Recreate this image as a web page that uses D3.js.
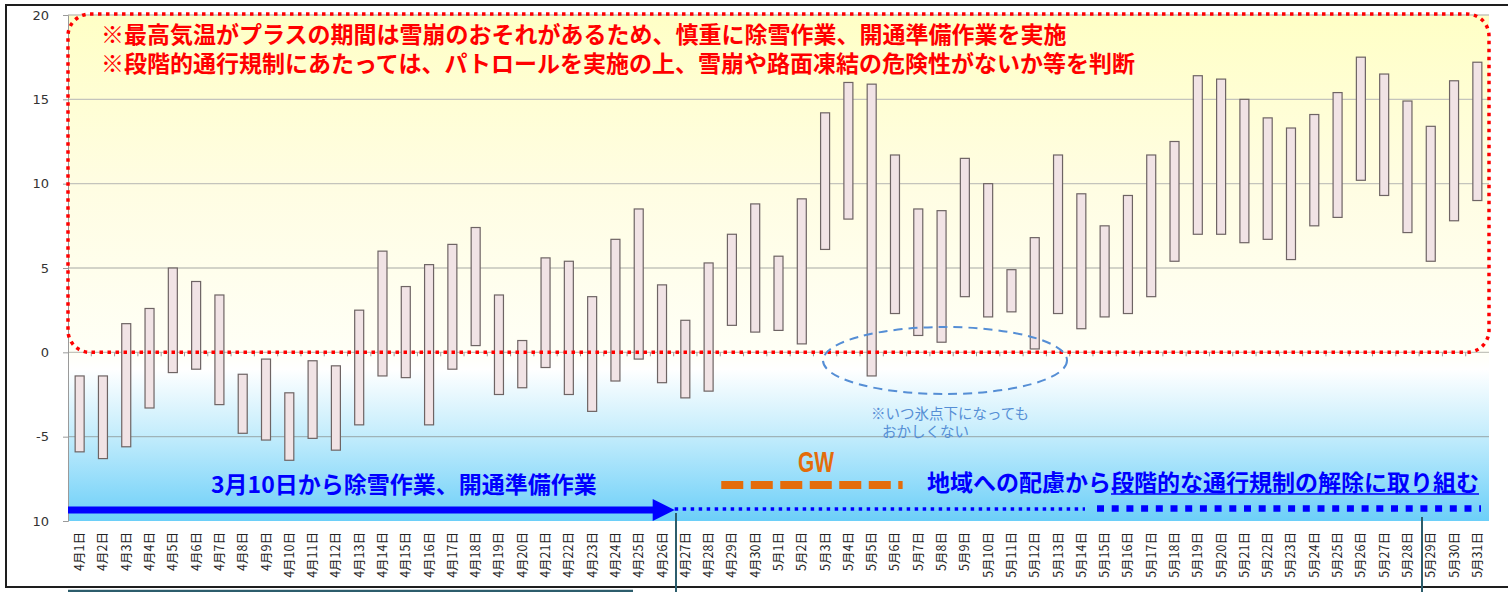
<!DOCTYPE html>
<html>
<head>
<meta charset="utf-8">
<script src="https://cdn.jsdelivr.net/npm/d3@7"></script>
<style>
  body { margin: 0; background: #fff; }
  svg { display: block; }
</style>
</head>
<body>
<div id="chart"></div>
<script>
// categories (4/1 - 5/31)
const days = [
  "4月1日","4月2日","4月3日","4月4日","4月5日","4月6日","4月7日","4月8日","4月9日","4月10日",
  "4月11日","4月12日","4月13日","4月14日","4月15日","4月16日","4月17日","4月18日","4月19日","4月20日",
  "4月21日","4月22日","4月23日","4月24日","4月25日","4月26日","4月27日","4月28日","4月29日","4月30日",
  "5月1日","5月2日","5月3日","5月4日","5月5日","5月6日","5月7日","5月8日","5月9日","5月10日",
  "5月11日","5月12日","5月13日","5月14日","5月15日","5月16日","5月17日","5月18日","5月19日","5月20日",
  "5月21日","5月22日","5月23日","5月24日","5月25日","5月26日","5月27日","5月28日","5月29日","5月30日",
  "5月31日"
];

// max temperature
const tMax = [
  -1.4, -1.4, 1.7, 2.6, 5.0, 4.2, 3.4, -1.3, -0.4, -2.4,
  -0.5, -0.8, 2.5, 6.0, 3.9, 5.2, 6.4, 7.4, 3.4, 0.7,
  5.6, 5.4, 3.3, 6.7, 8.5, 4.0, 1.9, 5.3, 7.0, 8.8,
  5.7, 9.1, 14.2, 16.0, 15.9, 11.7, 8.5, 8.4, 11.5, 10.0,
  4.9, 6.8, 11.7, 9.4, 7.5, 9.3, 11.7, 12.5, 16.4, 16.2,
  15.0, 13.9, 13.3, 14.1, 15.4, 17.5, 16.5, 14.9, 13.4, 16.1,
  17.2
];

// min temperature
const tMin = [
  -5.9, -6.3, -5.6, -3.3, -1.2, -1.0, -3.1, -4.8, -5.2, -6.4,
  -5.1, -5.8, -4.3, -1.4, -1.5, -4.3, -1.0, 0.4, -2.5, -2.1,
  -0.9, -2.5, -3.5, -1.7, -0.4, -1.8, -2.7, -2.3, 1.6, 1.2,
  1.3, 0.5, 6.1, 7.9, -1.4, 2.3, 1.0, 0.6, 3.3, 2.1,
  2.4, 0.2, 2.3, 1.4, 2.1, 2.3, 3.3, 5.4, 7.0, 7.0,
  6.5, 6.7, 5.5, 7.5, 8.0, 10.2, 9.3, 7.1, 5.4, 7.8,
  9.0
];

const yTicks = [-10, -5, 0, 5, 10, 15, 20];
const yTickLabels = ["10", "-5", "0", "5", "10", "15", "20"];

const noteLines = [
  "※最高気温がプラスの期間は雪崩のおそれがあるため、慎重に除雪作業、開通準備作業を実施",
  "※段階的通行規制にあたっては、パトロールを実施の上、雪崩や路面凍結の危険性がないか等を判断"
];
const freezeNote = ["※いつ氷点下になっても", "おかしくない"];
const workText = "3月10日から除雪作業、開通準備作業";
const planText1 = "地域への配慮から";
const planText2 = "段階的な通行規制の解除に取り組む";

const W = 1508, H = 592;
const pL = 68, pR = 1489, pT = 15, pB = 521;

const svg = d3.select("#chart").append("svg")
  .attr("width", W)
  .attr("height", H);

const x = d3.scaleBand().domain(days).range([pL, pR]).padding(0);
const y = d3.scaleLinear().domain([-10, 20]).range([pB, pT]);

// background gradient
const defs = svg.append("defs");
const grad = defs.append("linearGradient")
  .attr("id", "bg")
  .attr("gradientUnits", "userSpaceOnUse")
  .attr("x1", 0).attr("x2", 0)
  .attr("y1", pT).attr("y2", pB);
[
  [pT, "#ffffc6"],
  [y(10), "#fffde2"],
  [y(0), "#fffff6"],
  [y(-1), "#ffffff"],
  [y(-5), "#c2ecfc"],
  [pB, "#6ccff8"]
].forEach(([py, c]) => {
  grad.append("stop")
    .attr("offset", (py - pT) / (pB - pT))
    .attr("stop-color", c);
});

svg.append("rect")
  .attr("x", pL).attr("y", pT)
  .attr("width", pR - pL).attr("height", pB - pT)
  .attr("fill", "url(#bg)");

// gridlines
svg.append("g")
  .selectAll("line")
  .data(yTicks.filter(d => d > -10))
  .join("line")
  .attr("x1", pL).attr("x2", pR)
  .attr("y1", d => y(d)).attr("y2", d => y(d))
  .attr("stroke", d => d < 0 ? "#9fb3b8" : "#c4c4bc")
  .attr("stroke-width", 1.3);

// y axis
const yAxis = svg.append("g")
  .attr("transform", `translate(${pL},0)`)
  .call(d3.axisLeft(y)
    .tickValues(yTicks)
    .tickFormat((d, i) => yTickLabels[i])
    .tickSize(5)
    .tickPadding(14));
yAxis.select(".domain").attr("stroke", "#9a9a9a");
yAxis.selectAll(".tick line").attr("stroke", "#9a9a9a");
yAxis.selectAll("text")
  .attr("font-family", "DejaVu Sans, sans-serif")
  .attr("font-size", 13)
  .attr("fill", "#333");

// category ticks along the zero line
svg.append("g")
  .selectAll("line")
  .data(days.slice(1))
  .join("line")
  .attr("x1", d => x(d)).attr("x2", d => x(d))
  .attr("y1", y(0)).attr("y2", y(0) + 4)
  .attr("stroke", "#9a9a9a");

// category labels
svg.append("g")
  .selectAll("text")
  .data(days)
  .join("text")
  .attr("transform", d => `translate(${x(d) + x.bandwidth() / 2 + 4.5},532) rotate(-90)`)
  .attr("text-anchor", "end")
  .attr("font-family", "Noto Sans CJK JP, sans-serif")
  .attr("font-size", 12.5)
  .attr("fill", "#222")
  .text(d => d);

// floating bars
const bw = 9;
svg.append("g")
  .selectAll("rect")
  .data(days)
  .join("rect")
  .attr("x", d => x(d) + x.bandwidth() / 2 - bw / 2)
  .attr("width", bw)
  .attr("y", (d, i) => y(tMax[i]))
  .attr("height", (d, i) => y(tMin[i]) - y(tMax[i]))
  .attr("fill", "#f1e3e5")
  .attr("stroke", "#6e6464")
  .attr("stroke-width", 1.2);

// red dotted frame (plus-temperature zone)
svg.append("rect")
  .attr("x", pL).attr("y", 14)
  .attr("width", pR - pL).attr("height", y(0) - 14)
  .attr("rx", 22).attr("ry", 22)
  .attr("fill", "none")
  .attr("stroke", "#ff0000")
  .attr("stroke-width", 3.5)
  .attr("stroke-dasharray", "3.5,4.5");

svg.append("g")
  .selectAll("text")
  .data(noteLines)
  .join("text")
  .attr("x", 101)
  .attr("y", (d, i) => 43 + i * 28.5)
  .attr("font-family", "Noto Sans CJK JP, sans-serif")
  .attr("font-weight", 700)
  .attr("font-size", 23)
  .attr("fill", "#ff0000")
  .text(d => d);

// blue dashed ellipse + note
svg.append("ellipse")
  .attr("cx", 945).attr("cy", 360.5)
  .attr("rx", 122).attr("ry", 33.5)
  .attr("fill", "none")
  .attr("stroke", "#558ed5")
  .attr("stroke-width", 2)
  .attr("stroke-dasharray", "9,6");

svg.append("g")
  .selectAll("text")
  .data(freezeNote)
  .join("text")
  .attr("x", (d, i) => i === 0 ? 871 : 882)
  .attr("y", (d, i) => 419 + i * 18)
  .attr("font-family", "Noto Sans CJK JP, sans-serif")
  .attr("font-size", 14.5)
  .attr("fill", "#558ed5")
  .text(d => d);

// GW
svg.append("text")
  .attr("x", 798).attr("y", 472)
  .attr("font-family", "Liberation Sans Narrow, Liberation Sans, sans-serif")
  .attr("font-weight", 700)
  .attr("font-size", 30)
  .attr("textLength", 36)
  .attr("lengthAdjust", "spacingAndGlyphs")
  .attr("fill", "#e46c0a")
  .text("GW");

svg.append("line")
  .attr("x1", x("4月29日") + 1).attr("x2", x("5月7日") - 4)
  .attr("y1", 485).attr("y2", 485)
  .attr("stroke", "#e46c0a")
  .attr("stroke-width", 8)
  .attr("stroke-dasharray", "22,7.5");

// blue texts
svg.append("text")
  .attr("x", 211).attr("y", 493)
  .attr("font-family", "Noto Sans CJK JP, sans-serif")
  .attr("font-weight", 700)
  .attr("font-size", 23)
  .attr("fill", "#0000ff")
  .text(workText);

const plan = svg.append("text")
  .attr("x", 927).attr("y", 491)
  .attr("font-family", "Noto Sans CJK JP, sans-serif")
  .attr("font-weight", 700)
  .attr("font-size", 23)
  .attr("fill", "#0000ff");
plan.append("tspan").text(planText1);
plan.append("tspan").text(planText2);

const node = plan.node();
const u0 = 927 + node.getSubStringLength(0, planText1.length);
const u1 = 927 + node.getComputedTextLength();
svg.append("line")
  .attr("x1", u0).attr("x2", u1)
  .attr("y1", 494).attr("y2", 494)
  .attr("stroke", "#0000ff")
  .attr("stroke-width", 1.6);

// blue arrow (work period)
const arrowEnd = x("4月26日") + x.bandwidth() + 1;
svg.append("line")
  .attr("x1", pL).attr("x2", arrowEnd - 20)
  .attr("y1", 510).attr("y2", 510)
  .attr("stroke", "#0000ff")
  .attr("stroke-width", 7);
svg.append("path")
  .attr("d", `M${arrowEnd - 22},499 L${arrowEnd},510 L${arrowEnd - 22},521 Z`)
  .attr("fill", "#0000ff");

// fine dotted then bold dotted line
svg.append("line")
  .attr("x1", arrowEnd).attr("x2", 1085)
  .attr("y1", 509).attr("y2", 509)
  .attr("stroke", "#0000ff")
  .attr("stroke-width", 3.5)
  .attr("stroke-dasharray", "3.5,4.5");
svg.append("line")
  .attr("x1", 1097).attr("x2", 1481)
  .attr("y1", 508.5).attr("y2", 508.5)
  .attr("stroke", "#0000ff")
  .attr("stroke-width", 6.5)
  .attr("stroke-dasharray", "7,7.7");

// outer frame
svg.append("rect")
  .attr("x", 6).attr("y", 5)
  .attr("width", W + 10).attr("height", 582)
  .attr("fill", "none")
  .attr("stroke", "#1e1e1e")
  .attr("stroke-width", 2);

// connector lines from the diagram below
svg.append("line")
  .attr("x1", 676).attr("x2", 676).attr("y1", 513).attr("y2", H)
  .attr("stroke", "#2c5d6c").attr("stroke-width", 2);
svg.append("line")
  .attr("x1", 1422).attr("x2", 1422).attr("y1", 517).attr("y2", H)
  .attr("stroke", "#2c5d6c").attr("stroke-width", 2);
svg.append("line")
  .attr("x1", 68).attr("x2", 633).attr("y1", 591).attr("y2", 591)
  .attr("stroke", "#2c5d6c").attr("stroke-width", 2.5);
</script>
</body>
</html>
